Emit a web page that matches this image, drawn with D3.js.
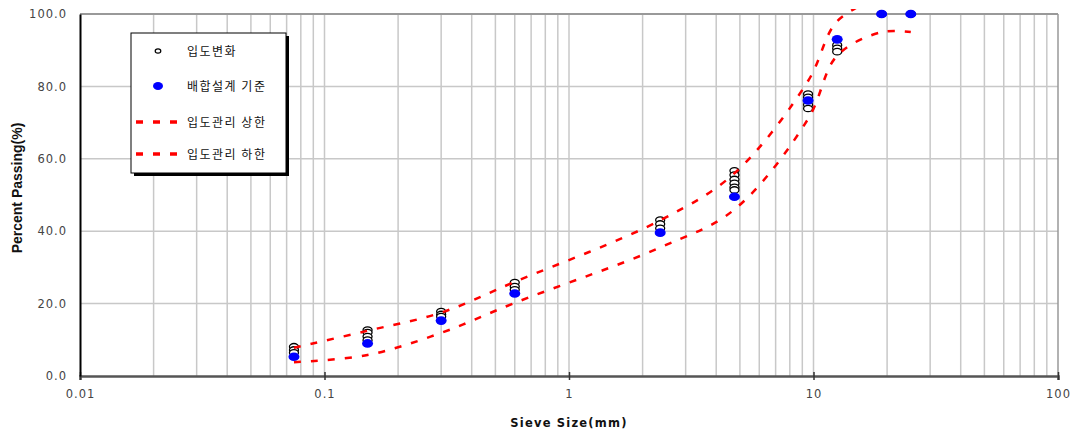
<!DOCTYPE html>
<html><head><meta charset="utf-8">
<script src="https://cdn.jsdelivr.net/npm/d3@7"></script>
<style>body{margin:0;background:#fff}svg{display:block}</style>
</head><body>
<svg id="c" width="1071" height="432"></svg>
<script>
const sieves = [0.075, 0.15, 0.3, 0.6, 2.36, 4.75, 9.5, 12.5, 19, 25];
const designValues = [5.3, 9.0, 15.3, 22.8, 39.6, 49.5, 76.1, 93.0, 100, 100];
const gradationChanges = [
  [8.1, 7.2, 6.4],
  [12.7, 12.0, 10.9, 9.9],
  [17.8, 17.0, 16.4],
  [25.8, 24.7, 23.8],
  [43.1, 42.0, 40.8],
  [56.7, 55.5, 54.3, 53.2, 52.1, 51.4],
  [77.9, 77.0, 74.9, 73.9],
  [91.4, 90.5, 89.6],
  [100],
  [100]
];
const upperSieves = [0.075, 0.15, 0.3, 0.6, 2.36, 4.75, 9.5, 12.5, 19];
const upperLimit = [7.8, 12.5, 17.5, 26, 43, 56, 81.5, 98, 105];
const lowerSieves = [0.075, 0.15, 0.3, 0.6, 2.36, 4.75, 9.5, 12.5, 19, 25];
const lowerLimit = [3.8, 5.8, 11.9, 20.2, 35.5, 46, 71, 88.5, 95, 95];
const xTicks = [0.01, 0.1, 1, 10, 100];
const xTickLabels = ["0.01", "0.1", "1", "10", "100"];
const yTicks = [0, 20, 40, 60, 80, 100];
const legendLabels = ["입도변화", "배합설계 기준", "입도관리 상한", "입도관리 하한"];

const svg = d3.select("#c");
const L = 80, R = 1058, T = 14, B = 376;
const x = d3.scaleLog().domain([0.01, 100]).range([L, R]);
const y = d3.scaleLinear().domain([0, 100]).range([B, T]);

// grid
const minor = [];
for (let e = -2; e < 2; e++) for (let m = 1; m <= 9; m++) minor.push(m * Math.pow(10, e));
svg.append("g").selectAll("line").data(minor.filter(v => v > 0.01)).join("line")
  .attr("x1", d => x(d)).attr("x2", d => x(d)).attr("y1", T).attr("y2", B)
  .attr("stroke", "#c8c8c8").attr("stroke-width", 1.5);
svg.append("g").selectAll("line").data(yTicks.filter(v => v > 0 && v < 100)).join("line")
  .attr("x1", L).attr("x2", R).attr("y1", d => y(d)).attr("y2", d => y(d))
  .attr("stroke", "#c8c8c8").attr("stroke-width", 1.5);
// frame
svg.append("line").attr("x1", L).attr("x2", R).attr("y1", T).attr("y2", T).attr("stroke", "#999").attr("stroke-width", 2);
svg.append("line").attr("x1", R).attr("x2", R).attr("y1", T).attr("y2", B).attr("stroke", "#999").attr("stroke-width", 1.5);

// axes
const xAxis = d3.axisBottom(x).tickValues(xTicks).tickFormat((d, i) => xTickLabels[i]).tickSize(4).tickPadding(10);
const gx = svg.append("g").attr("transform", `translate(0,${B})`).call(xAxis);
gx.select(".domain").attr("stroke", "#555").attr("stroke-width", 2.5);
gx.selectAll(".tick line").attr("stroke", "#333").attr("stroke-width", 1.5).attr("y1", -4);
gx.selectAll("text").attr("font-family", "DejaVu Sans").attr("font-size", 11.5).attr("fill", "#444").attr("letter-spacing", 1);
const yAxis = d3.axisLeft(y).tickValues(yTicks).tickFormat(d3.format(".1f")).tickSize(0).tickPadding(13);
const gy = svg.append("g").attr("transform", `translate(${L},0)`).call(yAxis);
gy.select(".domain").attr("stroke", "#000").attr("stroke-width", 2);
gy.selectAll("text").attr("font-family", "DejaVu Sans").attr("font-size", 11.5).attr("fill", "#444").attr("letter-spacing", 1);

svg.append("text").attr("x", 569).attr("y", 427).attr("text-anchor", "middle")
  .attr("font-family", "DejaVu Sans").attr("font-weight", "bold").attr("font-size", 11.5).attr("letter-spacing", 1.2)
  .attr("fill", "#111").text("Sieve Size(mm)");
svg.append("text").attr("transform", "translate(22,188) rotate(-90)").attr("text-anchor", "middle")
  .attr("font-family", "Liberation Sans Narrow, Liberation Sans").attr("font-weight", "bold").attr("font-size", 14)
  .attr("fill", "#111").text("Percent Passing(%)");

// clip
svg.append("clipPath").attr("id", "clip").append("rect").attr("x", L).attr("y", T - 5).attr("width", R - L + 5).attr("height", B - T + 10);

// open circles
const circData = [];
gradationChanges.forEach((arr, i) => arr.forEach(v => circData.push([sieves[i], v])));
svg.append("g").selectAll("ellipse").data(circData).join("ellipse")
  .attr("cx", d => x(d[0])).attr("cy", d => y(d[1])).attr("rx", 4.5).attr("ry", 3.2)
  .attr("fill", "#fff").attr("stroke", "#000").attr("stroke-width", 1.3);
// blue points
svg.append("g").selectAll("ellipse").data(sieves.map((s, i) => [s, designValues[i]])).join("ellipse")
  .attr("cx", d => x(d[0])).attr("cy", d => y(d[1])).attr("rx", 5.5).attr("ry", 4.3)
  .attr("fill", "#0000ff");

// limit lines
const line = d3.line().x(d => x(d[0])).y(d => y(d[1])).curve(d3.curveCatmullRom.alpha(0.5));
const lg = svg.append("g").attr("clip-path", "url(#clip)");
lg.append("path").datum(upperSieves.map((s, i) => [s, upperLimit[i]])).attr("d", line)
  .attr("fill", "none").attr("stroke", "#ff0000").attr("stroke-width", 2.5).attr("stroke-dasharray", "7,10");
lg.append("path").datum(lowerSieves.map((s, i) => [s, lowerLimit[i]])).attr("d", line)
  .attr("fill", "none").attr("stroke", "#ff0000").attr("stroke-width", 2.5).attr("stroke-dasharray", "7,10");

// legend
const lgX = 131, lgY = 33, lgW = 155, lgH = 140;
svg.append("rect").attr("x", lgX + 3).attr("y", lgY + 3).attr("width", lgW).attr("height", lgH).attr("fill", "#000");
svg.append("rect").attr("x", lgX).attr("y", lgY).attr("width", lgW).attr("height", lgH).attr("fill", "#fff").attr("stroke", "#000").attr("stroke-width", 1);
const rows = [51, 86, 122, 154];
const leg = svg.append("g");
leg.append("ellipse").attr("cx", 158).attr("cy", rows[0]).attr("rx", 2.8).attr("ry", 2.2).attr("fill", "#fff").attr("stroke", "#000").attr("stroke-width", 1.2);
leg.append("ellipse").attr("cx", 158).attr("cy", rows[1]).attr("rx", 5).attr("ry", 4).attr("fill", "#0000ff");
[2, 3].forEach(i => leg.append("line").attr("x1", 136).attr("x2", 180).attr("y1", rows[i]).attr("y2", rows[i])
  .attr("stroke", "#ff0000").attr("stroke-width", 3.5).attr("stroke-dasharray", "7,10"));
legendLabels.forEach((t, i) => leg.append("text").attr("x", 187).attr("y", rows[i] + 4.5)
  .attr("font-family", "Noto Sans CJK KR").attr("font-size", 12).attr("letter-spacing", 1.5).attr("fill", "#111").text(t));
</script>
</body></html>
